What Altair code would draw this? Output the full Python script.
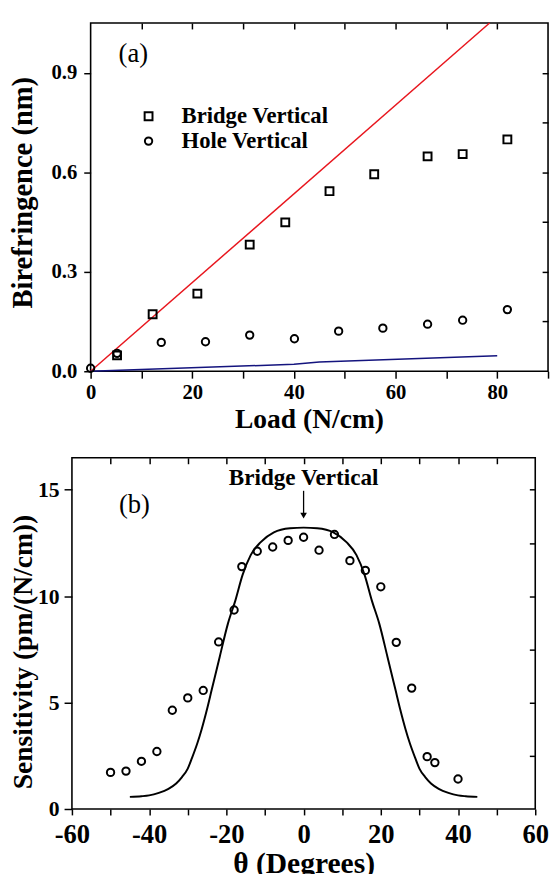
import altair as alt
import pandas as pd

FONT = "Liberation Serif"

# ---------------- panel (a): birefringence vs load ----------------
bridge_load = [5.2, 12.2, 21.0, 31.3, 38.3, 47.0, 55.8, 66.3, 73.2, 82.0]
bridge_biref = [0.048, 0.172, 0.234, 0.382, 0.449, 0.543, 0.594, 0.648, 0.655, 0.699]
hole_load = [0.0, 5.2, 13.9, 22.6, 31.3, 40.1, 48.8, 57.5, 66.3, 73.2, 82.0]
hole_biref = [0.009, 0.054, 0.087, 0.089, 0.109, 0.098, 0.121, 0.130, 0.142, 0.154, 0.186]
red_load = [0.0, 78.5]
red_biref = [0.0, 1.05]
blue_load = [0.0, 40.0, 45.0, 80.0]
blue_biref = [0.0, 0.021, 0.028, 0.047]

# ---------------- panel (b): sensitivity vs angle ----------------
theta_deg = [-50, -46, -42, -38, -34, -30, -26, -22, -18, -16, -12, -8, -4, 0,
             4, 8, 12, 16, 20, 24, 28, 32, 34, 40]
sensitivity = [1.72, 1.78, 2.24, 2.70, 4.64, 5.22, 5.57, 7.85, 9.35, 11.39, 12.11,
               12.31, 12.62, 12.77, 12.16, 12.90, 11.67, 11.21, 10.44, 7.83, 5.68,
               2.46, 2.18, 1.41]
curve_theta = [-45, -42, -40, -37.5, -35, -33, -31.5, -30, -28.9, -27.5, -26.4, -25,
               -23.8, -21.7, -19.6, -17.7, -15.8, -13.7, -11.1, -7.7, -3.5, 0,
               3.5, 7.7, 11.1, 13.7, 15.8, 17.7, 19.6, 21.7, 23.8, 25, 26.4, 27.5,
               28.9, 30, 31.5, 33, 35, 37.5, 40, 42, 45]
curve_sens = [0.57, 0.60, 0.64, 0.76, 0.95, 1.20, 1.50, 1.90, 2.40, 3.10, 3.75, 4.70,
              5.60, 7.17, 8.71, 9.78, 11.0, 11.93, 12.54, 13.0, 13.19, 13.22,
              13.19, 13.0, 12.54, 11.93, 11.0, 9.78, 8.71, 7.17, 5.60, 4.70, 3.75, 3.10,
              2.40, 1.90, 1.50, 1.20, 0.95, 0.76, 0.64, 0.60, 0.57]

xa_ticks = [0, 10, 20, 30, 40, 50, 60, 70, 80, 90]
ya_left_ticks = [0.0, 0.3, 0.6, 0.9]
ya_right_ticks = [0.15, 0.3, 0.45, 0.6, 0.75, 0.9]
xb_ticks = [-60, -50, -40, -30, -20, -10, 0, 10, 20, 30, 40, 50, 60]
yb_left_ticks = [0, 5, 10, 15]
yb_right_ticks = [2.5, 5, 7.5, 10, 12.5, 15]

common = dict(labelFont=FONT, labelFontWeight="bold", labelColor="black",
              titleFont=FONT, titleFontWeight="bold", titleColor="black",
              tickColor="black", tickWidth=1.5, domain=False, grid=False,
              labelFlush=False)
hidden = dict(labels=False, tickSize=6, offset=-6, minExtent=0, maxExtent=0,
              tickColor="black", tickWidth=1.5, domain=False, grid=False)
every20 = "datum.value % 20 == 0 ? '' + datum.value : ''"

# ================= panel (a) =================
WA, HA = 484, 354
XA = alt.Scale(domain=[0, 90], range=[19, WA], nice=False, zero=False)
YA = alt.Scale(domain=[0, 1.05], nice=False, zero=False)
frame_a = pd.DataFrame({"x": [0.0], "x2": [90.0], "y": [0.0], "y2": [1.05]})

a_frame = alt.Chart(frame_a).mark_rect(fill="transparent", stroke="black", strokeWidth=1.6).encode(
    x=alt.X("x:Q", scale=XA, axis=alt.Axis(
        orient="bottom", values=xa_ticks, labelExpr=every20, labelFontSize=21,
        tickSize=7, labelPadding=4, title="Load (N/cm)", titleFontSize=28,
        titleBaseline="top", titleY=35, titleX=241, **common)),
    x2="x2:Q",
    y=alt.Y("y:Q", scale=YA, axis=alt.Axis(
        orient="left", offset=-19, values=ya_left_ticks, format=".1f", labelFontSize=21,
        tickSize=7, labelPadding=7, title="Birefringence (nm)", titleFontSize=29,
        titleX=-54, titleY=172, **common)),
    y2="y2:Q",
)
a_ticks = alt.Chart(frame_a).mark_point(opacity=0).encode(
    x=alt.X("x:Q", scale=XA, axis=alt.Axis(orient="top", values=xa_ticks[1:-1],
                                           title=None, **hidden)),
    y=alt.Y("y:Q", scale=YA, axis=alt.Axis(orient="right", values=ya_right_ticks,
                                           title=None, **hidden)),
)

red_df = pd.DataFrame({"load": red_load, "biref": red_biref})
blue_df = pd.DataFrame({"load": blue_load, "biref": blue_biref})
bridge_df = pd.DataFrame({"load": bridge_load, "biref": bridge_biref})
hole_df = pd.DataFrame({"load": hole_load, "biref": hole_biref})

def enc_a(chart):
    return chart.encode(x=alt.X("load:Q", scale=XA, axis=None),
                        y=alt.Y("biref:Q", scale=YA, axis=None))

SQ = dict(shape="square", filled=False, color="black", strokeWidth=2, size=64, opacity=1)
CI = dict(shape="circle", filled=False, color="black", strokeWidth=2, size=56, opacity=1)

a_red = enc_a(alt.Chart(red_df).mark_line(color="#e8161e", strokeWidth=1.5))
a_blue = enc_a(alt.Chart(blue_df).mark_line(color="#14147e", strokeWidth=1.5))
a_sq = enc_a(alt.Chart(bridge_df).mark_point(**SQ))
a_ci = enc_a(alt.Chart(hole_df).mark_point(**CI))

legend_df = pd.DataFrame({"load": [11.4, 11.4], "biref": [0.769, 0.694],
                          "tx": [17.9, 17.9],
                          "label": ["Bridge Vertical", "Hole Vertical"]})
a_leg_sq = enc_a(alt.Chart(legend_df.iloc[[0]]).mark_point(**SQ))
a_leg_ci = enc_a(alt.Chart(legend_df.iloc[[1]]).mark_point(**CI))
a_leg_tx = alt.Chart(legend_df).mark_text(
    font=FONT, fontWeight="bold", fontSize=23, align="left", baseline="middle",
    color="black").encode(
    x=alt.X("tx:Q", scale=XA, axis=None), y=alt.Y("biref:Q", scale=YA, axis=None),
    text="label:N")
a_tag = alt.Chart(pd.DataFrame({"load": [8.4], "biref": [0.955], "t": ["(a)"]})).mark_text(
    font=FONT, fontSize=27, align="center", baseline="middle", color="black").encode(
    x=alt.X("load:Q", scale=XA, axis=None), y=alt.Y("biref:Q", scale=YA, axis=None),
    text="t:N")

panel_a = alt.layer(a_frame, a_ticks, a_red, a_blue, a_sq, a_ci,
                    a_leg_sq, a_leg_ci, a_leg_tx, a_tag).properties(width=WA, height=HA)

# ================= panel (b) =================
WB, HB = 471, 357
XB = alt.Scale(domain=[-60, 60], nice=False, zero=False)
YB = alt.Scale(domain=[0, 16.5], nice=False, zero=False)
frame_b = pd.DataFrame({"x": [-60.0], "x2": [60.0], "y": [0.0], "y2": [16.5]})

b_frame = alt.Chart(frame_b).mark_rect(fill="transparent", stroke="black", strokeWidth=1.6).encode(
    x=alt.X("x:Q", scale=XB, axis=alt.Axis(
        orient="bottom", values=xb_ticks, labelExpr=every20, labelFontSize=27,
        tickSize=6, labelPadding=7, title="θ (Degrees)", titleFontSize=30,
        titleBaseline="top", titleY=41, **common)),
    x2="x2:Q",
    y=alt.Y("y:Q", scale=YB, axis=alt.Axis(
        orient="left", values=yb_left_ticks, labelFontSize=22, tickSize=8,
        labelPadding=5, title="Sensitivity (pm/(N/cm))", titleFontSize=28,
        titleX=-35, titleY=197, **common)),
    y2="y2:Q",
)
b_ticks = alt.Chart(frame_b).mark_point(opacity=0).encode(
    x=alt.X("x:Q", scale=XB, axis=alt.Axis(orient="top", values=xb_ticks[1:-1],
                                           title=None, **hidden)),
    y=alt.Y("y:Q", scale=YB, axis=alt.Axis(orient="right", values=yb_right_ticks,
                                           title=None, **hidden)),
)

meas_df = pd.DataFrame({"theta": theta_deg, "sens": sensitivity})
curve_df = pd.DataFrame({"theta": curve_theta, "sens": curve_sens})

def enc_b(chart):
    return chart.encode(x=alt.X("theta:Q", scale=XB, axis=None),
                        y=alt.Y("sens:Q", scale=YB, axis=None))

b_curve = enc_b(alt.Chart(curve_df).mark_line(color="black", strokeWidth=2,
                                              interpolate="monotone"))
b_pts = enc_b(alt.Chart(meas_df).mark_point(**CI))
b_arrow_line = alt.Chart(pd.DataFrame({"theta": [0.0], "s1": [14.95], "s2": [13.9]})).mark_rule(
    color="black", strokeWidth=1.3).encode(
    x=alt.X("theta:Q", scale=XB, axis=None), y=alt.Y("s1:Q", scale=YB, axis=None), y2="s2:Q")
b_arrow_head = enc_b(alt.Chart(pd.DataFrame({"theta": [0.0], "sens": [13.78]})).mark_point(
    shape="triangle-down", filled=True, color="black", size=45, opacity=1))
b_note = alt.Chart(pd.DataFrame({"theta": [0.0], "sens": [15.54], "t": ["Bridge Vertical"]})).mark_text(
    font=FONT, fontWeight="bold", fontSize=23.5, align="center", baseline="middle",
    color="black").encode(
    x=alt.X("theta:Q", scale=XB, axis=None), y=alt.Y("sens:Q", scale=YB, axis=None), text="t:N")
b_tag = alt.Chart(pd.DataFrame({"theta": [-43.8], "sens": [14.3], "t": ["(b)"]})).mark_text(
    font=FONT, fontSize=27, align="center", baseline="middle", color="black").encode(
    x=alt.X("theta:Q", scale=XB, axis=None), y=alt.Y("sens:Q", scale=YB, axis=None), text="t:N")

panel_b = alt.layer(b_frame, b_ticks, b_curve, b_pts, b_arrow_line, b_arrow_head,
                    b_note, b_tag).properties(width=WB, height=HB)

chart = alt.vconcat(panel_a, panel_b, spacing=22).properties(
    padding={"left": 0, "top": 4, "right": 0, "bottom": 0}
).configure_view(stroke="transparent")

chart.save("out.html", embed_options={"renderer": "svg", "actions": False})
